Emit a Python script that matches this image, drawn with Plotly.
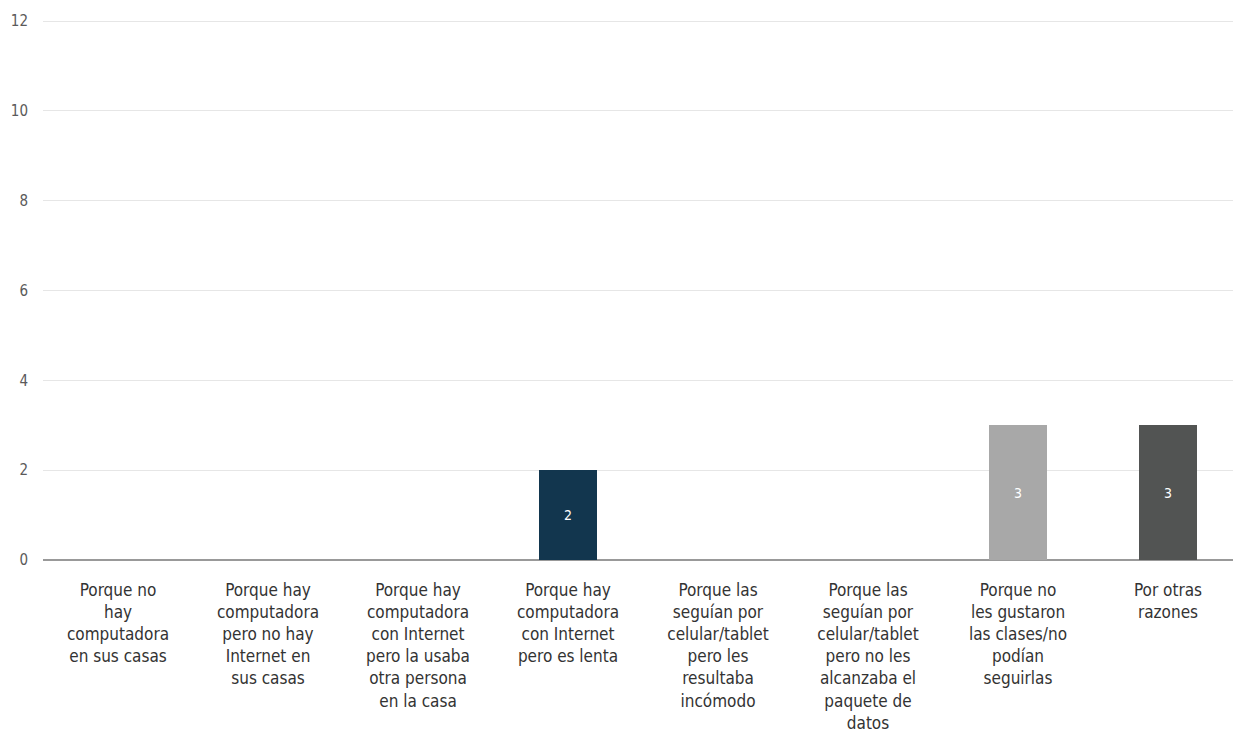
import plotly.graph_objects as go

categories = [
    "Porque no<br>hay<br>computadora<br>en sus casas",
    "Porque hay<br>computadora<br>pero no hay<br>Internet en<br>sus casas",
    "Porque hay<br>computadora<br>con Internet<br>pero la usaba<br>otra persona<br>en la casa",
    "Porque hay<br>computadora<br>con Internet<br>pero es lenta",
    "Porque las<br>seguían por<br>celular/tablet<br>pero les<br>resultaba<br>incómodo",
    "Porque las<br>seguían por<br>celular/tablet<br>pero no les<br>alcanzaba el<br>paquete de<br>datos",
    "Porque no<br>les gustaron<br>las clases/no<br>podían<br>seguirlas",
    "Por otras<br>razones",
]
values = [0, 0, 0, 2, 0, 0, 3, 3]
colors = ["#12364e", "#12364e", "#12364e", "#12364e", "#12364e", "#12364e", "#a8a8a8", "#525453"]
labels = ["", "", "", "2", "", "", "3", "3"]
y_ticks = [0, 2, 4, 6, 8, 10, 12]

FONT = "DejaVu Sans Condensed, Roboto Condensed, Roboto, sans-serif"

fig = go.Figure(go.Bar(
    x=list(range(len(categories))),
    y=values,
    marker=dict(color=colors, line=dict(width=0)),
    width=0.385,
    text=labels,
    textposition="inside",
    insidetextanchor="middle",
    textangle=0,
    textfont=dict(color="white", size=14, family=FONT),
))

fig.update_layout(
    width=1233, height=736,
    margin=dict(l=43, r=0, t=17, b=176),
    plot_bgcolor="white", paper_bgcolor="white",
    showlegend=False,
    bargap=0,
    xaxis=dict(
        range=[-0.5, 7.5 - 10 / 150],
        tickmode="array",
        tickvals=list(range(len(categories))),
        ticktext=categories,
        tickangle=0,
        tickfont=dict(family=FONT, size=17, color="#333333"),
        showgrid=False,
        showline=False,
        zeroline=False,
        ticks="",
        ticklabelstandoff=18,
    ),
    yaxis=dict(
        range=[0, 12.09],
        tickvals=y_ticks,
        tickfont=dict(family=FONT, size=15, color="#5a5a5a"),
        showgrid=True,
        gridcolor="#e6e6e6",
        gridwidth=1,
        zeroline=True,
        zerolinecolor="#999999",
        zerolinewidth=1.5,
        ticklabelstandoff=14,
    ),
)

fig.write_html("out.html")
